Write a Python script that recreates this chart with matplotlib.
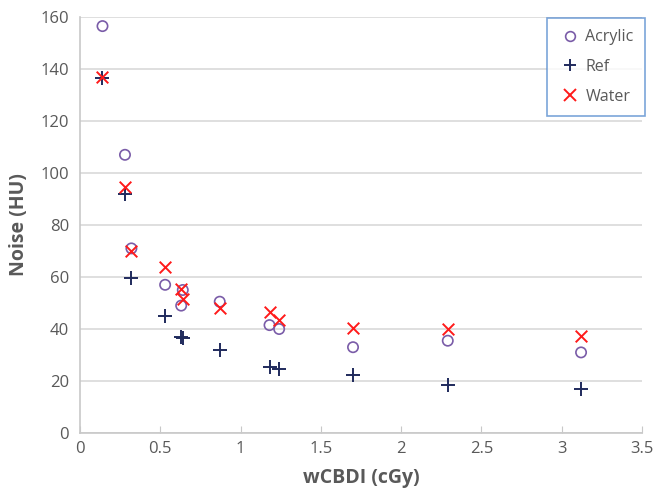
import matplotlib.pyplot as plt
from matplotlib.lines import Line2D

# data
wcbdi = [0.14, 0.28, 0.32, 0.53, 0.63, 0.64, 0.87, 1.18, 1.24, 1.70, 2.29, 3.12]
acrylic = [156.5, 107, 71, 57, 49, 55, 50.5, 41.5, 40, 33, 35.5, 31]
ref = [136.5, 92, 59.5, 45, 37, 36.5, 32, 25.3, 24.5, 22.5, 18.5, 17]
water = [137, 94.5, 70, 64, 55.5, 51.5, 48, 46.5, 43.5, 40.5, 40, 37.5]

x_ticks = [0, 0.5, 1, 1.5, 2, 2.5, 3, 3.5]
y_ticks = [0, 20, 40, 60, 80, 100, 120, 140, 160]

plt.rcParams['font.family'] = ['Open Sans', 'DejaVu Sans']

fig = plt.figure(figsize=(6.64, 4.93), dpi=100)
ax = fig.add_axes([0.1205, 0.1217, 0.8465, 0.8438])

ax.scatter(wcbdi, acrylic, marker='o', s=55, facecolors='none',
           edgecolors='#7a5ca8', linewidths=1.2, label='Acrylic', zorder=3)
ax.scatter(wcbdi, ref, marker='+', s=90, color='#1f2a5c',
           linewidths=1.4, label='Ref', zorder=3)
ax.scatter(wcbdi, water, marker='x', s=70, color='#ff1a1a',
           linewidths=1.4, label='Water', zorder=3)

ax.set_xlim(0, 3.5)
ax.set_ylim(0, 160)
ax.set_xticks(x_ticks)
ax.set_xticklabels([f"{t:g}" for t in x_ticks])
ax.set_yticks(y_ticks)

ax.grid(axis='y', color='#d9d9d9', linewidth=1.2, zorder=0)
ax.set_axisbelow(True)
for side in ['top', 'right']:
    ax.spines[side].set_visible(False)
for side in ['left', 'bottom']:
    ax.spines[side].set_color('#c8c8c8')
    ax.spines[side].set_linewidth(1.2)

ax.tick_params(axis='x', direction='in', length=5, color='#c8c8c8',
               labelsize=12, labelcolor='#595959', pad=6)
ax.tick_params(axis='y', length=0, labelsize=12, labelcolor='#595959', pad=8)

ax.set_xlabel('wCBDI (cGy)', fontsize=14, fontweight='bold', color='#595959', labelpad=8)
ax.set_ylabel('Noise (HU)', fontsize=14, fontweight='bold', color='#595959', labelpad=8)

handles = [
    Line2D([], [], marker='o', linestyle='none', markersize=7, markerfacecolor='none',
           markeredgecolor='#7a5ca8', markeredgewidth=1.2),
    Line2D([], [], marker='+', linestyle='none', markersize=9, color='#1f2a5c',
           markeredgewidth=1.4),
    Line2D([], [], marker='x', linestyle='none', markersize=8, color='#ff1a1a',
           markeredgewidth=1.4),
]
leg = ax.legend(handles, ['Acrylic', 'Ref', 'Water'], loc='upper right',
                bbox_to_anchor=(1.005, 0.997), frameon=True, fancybox=False,
                fontsize=11.5, labelspacing=0.85, handletextpad=0.2,
                handlelength=1.5, borderpad=0.7, borderaxespad=0.0,
                labelcolor='#595959')
leg.get_frame().set_edgecolor('#5b8fd0')
leg.get_frame().set_linewidth(1.2)

fig.savefig('out.png', dpi=100)
